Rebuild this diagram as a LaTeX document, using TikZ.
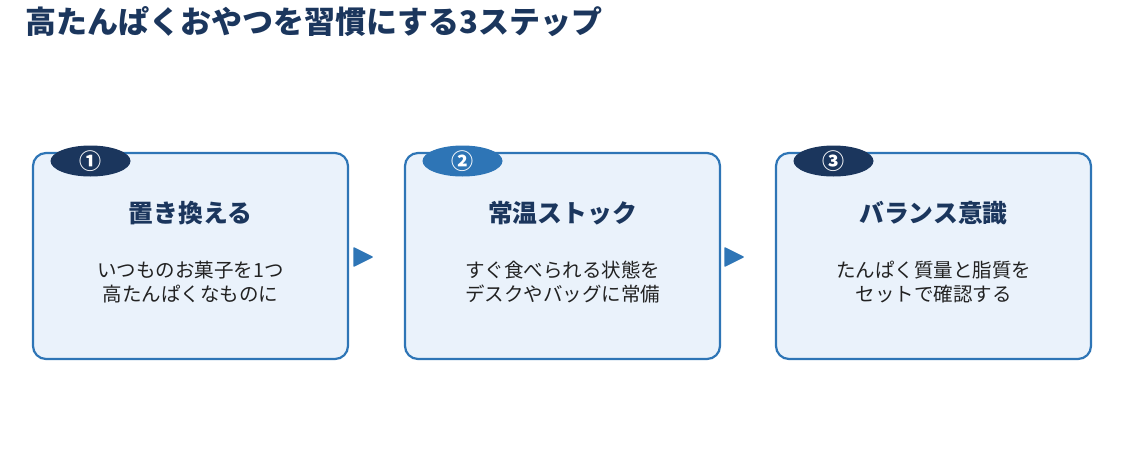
\documentclass[tikz,border=0pt]{standalone}
\usepackage{fontspec}
\setmainfont{Noto Sans CJK JP}
\usetikzlibrary{shapes.geometric,arrows.meta}
\definecolor{navy}{HTML}{1B365D}
\definecolor{mblue}{HTML}{2E75B6}
\definecolor{lblue}{HTML}{EAF2FB}
\definecolor{txt}{HTML}{222222}
\begin{document}
\begin{tikzpicture}[x=1pt,y=-1pt,
  box/.style={draw=mblue,line width=2.2pt,fill=lblue,rounded corners=13pt,minimum width=315pt,minimum height=206pt,inner sep=0pt},
  badge/.style={ellipse,minimum width=80pt,minimum height=31pt,inner sep=0pt,text=white,font=\fontsize{22}{22}\selectfont\bfseries},
  head/.style={text=navy,font=\fontsize{24.8}{28}\selectfont\bfseries},
  body/.style={text=txt,align=center,font=\fontsize{19.5}{24}\selectfont},
  arr/.style={fill=mblue,draw=mblue,line width=1.5pt,line join=round}]
\useasboundingbox (0,0) rectangle (1125,450);
\node[anchor=west,text=navy,font=\fontsize{31}{34}\selectfont\bfseries] (title) at (22,22) {高たんぱくおやつを習慣にする3ステップ};
\foreach \i/\x/\c/\n/\h/\b in {1/190.5/navy/①/置き換える/いつものお菓子を1つ\\高たんぱくなものに,
  2/562.5/mblue/②/常温ストック/すぐ食べられる状態を\\デスクやバッグに常備,
  3/933.5/navy/③/バランス意識/たんぱく質量と脂質を\\セットで確認する}{
  \node[box] (b\i) at (\x,256) {};
  \node[badge,fill=\c] (g\i) at (\x-100,161) {\n};
  \node[head] (h\i) at (\x,213) {\h};
  \node[body] (t\i) at (\x,282) {\b};
}
\path[arr] (354,248) -- (372,257) -- (354,266) -- cycle;
\path[arr] (725,248) -- (743,257) -- (725,266) -- cycle;
\end{tikzpicture}
\end{document}
